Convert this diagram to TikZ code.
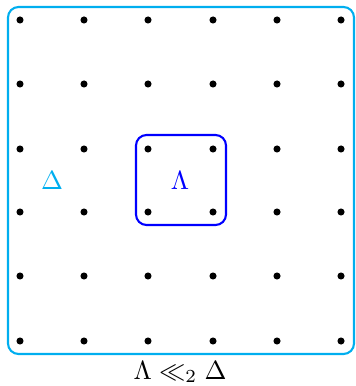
\documentclass[tikz,border=0pt]{standalone}
\usepackage{amssymb}
\definecolor{cy}{RGB}{0,174,239}
\begin{document}
\begin{tikzpicture}[x=0.38pt,y=-0.38pt,
  dot/.style={circle,fill=black,inner sep=0pt,minimum size=2.7pt},
  lab/.style={inner sep=0pt}]
\useasboundingbox (0,0) rectangle (355,386);
\draw[cy,line width=0.8pt,rounded corners=4pt] (8,7) rectangle (354,354);
\draw[blue,line width=0.8pt,rounded corners=4pt] (136,135) rectangle (226,225);
\foreach \i/\x in {1/20,2/84,3/148,4/213,5/277,6/341}{
  \foreach \j/\y in {1/20,2/84,3/149,4/212,5/276,6/341}{
    \node[dot] (d\i\j) at (\x,\y) {};
  }
}
\node[lab,text=cy] (delta) at (52,181) {$\Delta$};
\node[lab,text=blue] (lambda) at (180,181) {$\Lambda$};
\node[lab] (rel) at (180,372) {$\Lambda \ll_2 \Delta$};
\end{tikzpicture}
\end{document}
